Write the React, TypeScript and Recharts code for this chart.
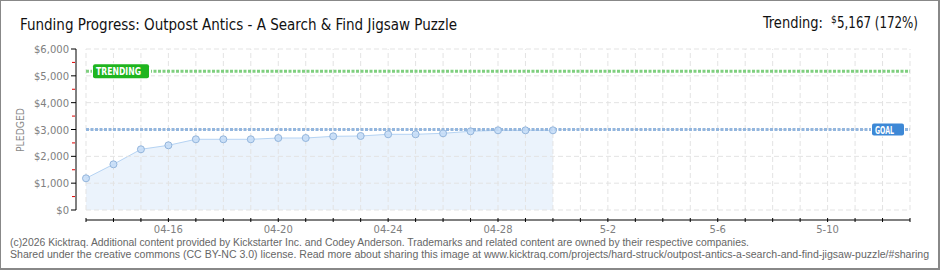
import React from 'react'
import { ComposedChart, Area, XAxis, YAxis, ReferenceLine } from 'recharts'

const DAYS = [
  '04-13', '04-14', '04-15', '04-16', '04-17', '04-18', '04-19', '04-20',
  '04-21', '04-22', '04-23', '04-24', '04-25', '04-26', '04-27', '04-28',
  '04-29', '04-30', '5-1', '5-2', '5-3', '5-4', '5-5', '5-6', '5-7', '5-8',
  '5-9', '5-10', '5-11', '5-12', '5-13',
]
const PLEDGED = [
  1181, 1703, 2262, 2411, 2635, 2635, 2635, 2683, 2683, 2746, 2758, 2821,
  2821, 2858, 2933, 2970, 2970, 2970,
]
const GOAL = 3000
const TRENDING = 5167
const GRID_TICKS = [0, 1000, 2000, 3000, 4000, 5000, 6000]
const Y_TICKS = [0, 500, 1000, 1500, 2000, 2500, 3000, 3500, 4000, 4500, 5000, 5500, 6000]

const chartData = DAYS.map((day, i) => ({ day, pledged: PLEDGED[i] }))

const money = (v: number) => `$${v.toLocaleString('en-US')}`
const TICK_FONT = '"DejaVu Sans", sans-serif'
const TITLE_FONT = '"DejaVu Sans Condensed", "Roboto", sans-serif'
const FOOT_FONT = '"Liberation Sans", Arial, sans-serif'
const GRID = { stroke: '#e3e3e3', strokeDasharray: '5 3', strokeWidth: 1 }

const NoTick = () => <g />

const YTick = (props: any) => {
  const { x, y, payload } = props
  const v = payload.value as number
  if (v % 1000 !== 0) {
    return <line x1={x - 4} x2={x - 1} y1={y} y2={y} stroke="#e00000" strokeWidth={1} />
  }
  return (
    <g>
      <line x1={x - 5} x2={x} y1={y} y2={y} stroke="#000" strokeWidth={1} />
      <text x={x - 7} y={y + 4} textAnchor="end" fontSize={10} fill="#808080" fontFamily={TICK_FONT}>
        {money(v)}
      </text>
    </g>
  )
}

const XTick = (props: any) => {
  const { x, y, payload, index } = props
  return (
    <g>
      <line x1={x} x2={x} y1={y - 2} y2={y + 2} stroke="#000" strokeWidth={1} />
      {index % 4 === 3 && (
        <text x={x} y={y + 13} textAnchor="middle" fontSize={10} fill="#808080" fontFamily={TICK_FONT}>
          {payload.value}
        </text>
      )}
    </g>
  )
}

const TrendLabel = (props: any) => {
  const { x, y } = props.viewBox
  return (
    <g>
      <rect x={x + 6} y={y - 8} width={59} height={16} fill="#fff" />
      <rect x={x + 7} y={y - 7} width={56} height={14} rx={2} fill="#1fb51f" />
      <text x={x + 10} y={y + 4} fontSize={10} fill="#fff" fontWeight="bold" fontFamily={TICK_FONT} textLength={45} lengthAdjust="spacingAndGlyphs">
        TRENDING
      </text>
    </g>
  )
}

const GoalLabel = (props: any) => {
  const { x, y, width } = props.viewBox
  const left = x + width - 38
  return (
    <g>
      <rect x={left - 1} y={y - 7} width={34} height={14} fill="#fff" />
      <rect x={left} y={y - 6} width={32} height={12} rx={2} fill="#3d88d6" />
      <text x={left + 3} y={y + 4} fontSize={10} fill="#fff" fontWeight="bold" fontFamily={TICK_FONT} textLength={19} lengthAdjust="spacingAndGlyphs">
        GOAL
      </text>
    </g>
  )
}

export default function App() {
  return (
    <div style={{ position: 'fixed', left: 0, top: 0, width: 940, height: 270, background: '#fff' }}>
      <ComposedChart
        width={940}
        height={270}
        data={chartData}
        margin={{ top: 49, right: 30, bottom: 20, left: 16 }}
      >
        <XAxis dataKey="day" height={10} interval={0} tick={<NoTick />} axisLine={false} tickLine={false} />
        <XAxis
          xAxisId="ticks"
          dataKey="day"
          height={30}
          interval={0}
          tickSize={0}
          tickMargin={0}
          tickLine={false}
          axisLine={{ stroke: '#000' }}
          tick={<XTick />}
        />
        <YAxis width={10} type="number" domain={[0, 6000]} ticks={GRID_TICKS} interval={0} tick={<NoTick />} axisLine={false} tickLine={false} />
        <YAxis
          yAxisId="ticks"
          type="number"
          width={60}
          domain={[0, 6000]}
          ticks={Y_TICKS}
          interval={0}
          tickSize={0}
          tickMargin={0}
          tickLine={false}
          axisLine={{ stroke: '#000' }}
          tick={<YTick />}
        />
        {/* dashed grid, drawn as reference lines */}
        {GRID_TICKS.map((v) => (
          <ReferenceLine key={`h-${v}`} y={v} {...GRID} />
        ))}
        {DAYS.map((d) => (
          <ReferenceLine key={`v-${d}`} x={d} {...GRID} />
        ))}
        <ReferenceLine y={TRENDING} stroke="#7fcf7f" strokeWidth={3} strokeDasharray="3 1.5" label={<TrendLabel />} />
        <ReferenceLine y={GOAL} stroke="#93b6de" strokeWidth={3} strokeDasharray="3 1.5" label={<GoalLabel />} />
        {/* invisible copy so the tick axes have a series of their own */}
        <Area
          xAxisId="ticks"
          yAxisId="ticks"
          dataKey="pledged"
          stroke="none"
          fill="none"
          dot={false}
          activeDot={false}
          isAnimationActive={false}
        />
        <Area
          dataKey="pledged"
          type="linear"
          stroke="#b5d3f3"
          strokeWidth={1}
          fill="#e8f1fc"
          fillOpacity={0.85}
          dot={{ r: 3.5, fill: '#c4dcf7', stroke: '#93b5dc', strokeWidth: 1 }}
          activeDot={false}
          isAnimationActive={false}
        />
      </ComposedChart>

      <svg width={940} height={270} style={{ position: 'absolute', left: 0, top: 0, pointerEvents: 'none' }}>
        <text x={20} y={30} fontSize={16} fill="#111" fontFamily={TITLE_FONT} textLength={437} lengthAdjust="spacingAndGlyphs">
          Funding Progress: Outpost Antics - A Search &amp; Find Jigsaw Puzzle
        </text>
        <text x={763} y={28} fontSize={16} fill="#111" fontFamily={TITLE_FONT} textLength={60} lengthAdjust="spacingAndGlyphs">
          Trending:
        </text>
        <text x={831} y={23} fontSize={10} fill="#111" fontFamily={TITLE_FONT}>$</text>
        <text x={837} y={28} fontSize={16} fill="#111" fontFamily={TITLE_FONT} textLength={81} lengthAdjust="spacingAndGlyphs">
          5,167 (172%)
        </text>
        <text
          x={20}
          y={130}
          transform="rotate(-90 20 130)"
          textAnchor="middle"
          dominantBaseline="central"
          fontSize={10}
          fill="#888"
          fontFamily={TICK_FONT}
          textLength={44}
          lengthAdjust="spacingAndGlyphs"
        >
          PLEDGED
        </text>
        <text x={10} y={246} fontSize={10} fill="#666" fontFamily={FOOT_FONT} textLength={739} lengthAdjust="spacingAndGlyphs">
          (c)2026 Kicktraq. Additional content provided by Kickstarter Inc. and Codey Anderson. Trademarks and related content are owned by their respective companies.
        </text>
        <text x={10} y={258} fontSize={10} fill="#666" fontFamily={FOOT_FONT} textLength={919} lengthAdjust="spacingAndGlyphs">
          Shared under the creative commons (CC BY-NC 3.0) license. Read more about sharing this image at www.kicktraq.com/projects/hard-struck/outpost-antics-a-search-and-find-jigsaw-puzzle/#sharing
        </text>
      </svg>

      <div
        style={{
          position: 'absolute',
          inset: 0,
          boxSizing: 'border-box',
          borderStyle: 'solid',
          borderColor: '#888',
          borderWidth: '1px 2px 2px 1px',
          pointerEvents: 'none',
        }}
      />
    </div>
  )
}
